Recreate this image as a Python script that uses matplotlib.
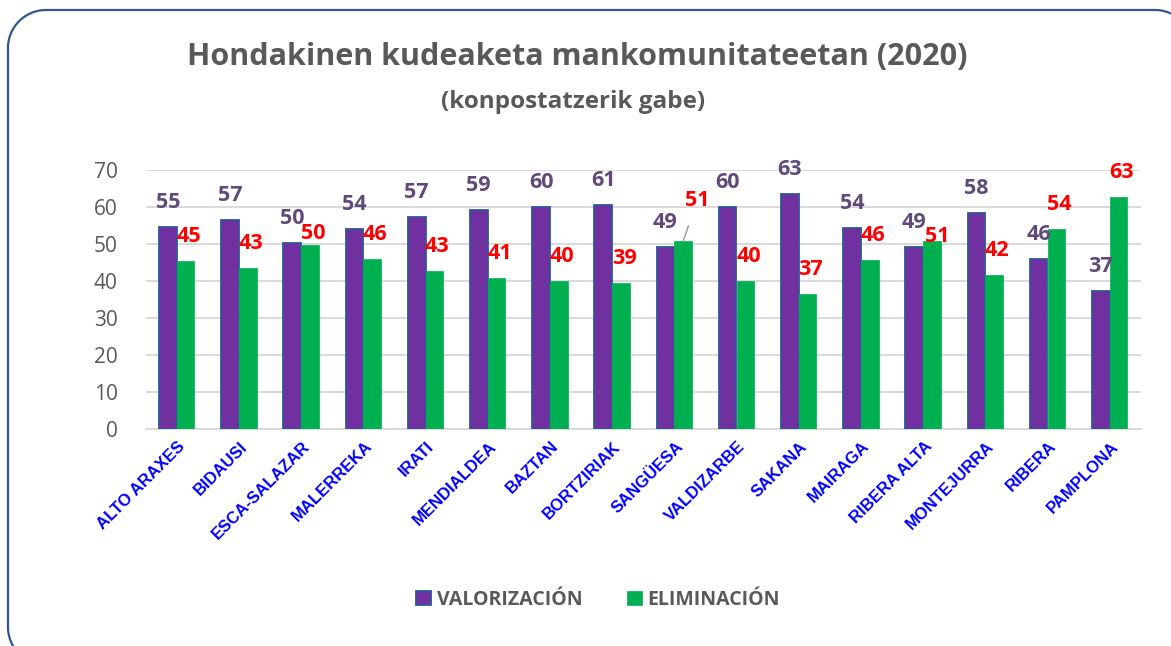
import matplotlib
matplotlib.use("Agg")
import matplotlib.pyplot as plt
import matplotlib.transforms as mtransforms
from matplotlib.lines import Line2D
import numpy as np

categories = ["ALTO ARAXES", "BIDAUSI", "ESCA-SALAZAR", "MALERREKA", "IRATI",
              "MENDIALDEA", "BAZTAN", "BORTZIRIAK", "SANGÜESA", "VALDIZARBE",
              "SAKANA", "MAIRAGA", "RIBERA ALTA", "MONTEJURRA", "RIBERA", "PAMPLONA"]
valorizacion = [54.7, 56.6, 50.4, 54.1, 57.4, 59.2, 60.0, 60.6, 49.2, 60.0,
                63.4, 54.4, 49.2, 58.4, 46.0, 37.4]
eliminacion = [45.3, 43.4, 49.6, 45.9, 42.6, 40.8, 40.0, 39.4, 50.8, 40.0,
               36.6, 45.6, 50.8, 41.6, 54.0, 62.6]
series_names = ["VALORIZACIÓN", "ELIMINACIÓN"]
yticks = [0, 10, 20, 30, 40, 50, 60, 70]

PURPLE = "#7030A0"
GREEN = "#00B050"
EDGE = "#2F5597"
GRAY = "#595959"
LBL_PURPLE = "#604A7B"

fig = plt.figure(figsize=(11.71, 6.46), dpi=100)
W, H = 1171, 646
ax = fig.add_axes([145.6 / W, 1 - 429 / H, (1140.8 - 145.6) / W, (429 - 170) / H])

x = np.arange(len(categories))
bw = 0.286
b1 = ax.bar(x - bw / 2, valorizacion, bw, color=PURPLE, edgecolor=EDGE, linewidth=1.3,
            label=series_names[0], zorder=3)
b2 = ax.bar(x + bw / 2, eliminacion, bw, color=GREEN, edgecolor=GREEN, linewidth=0.5,
            label=series_names[1], zorder=3)

ax.set_xlim(-0.5, len(categories) - 0.5)
ax.set_ylim(0, 70)
ax.set_yticks(yticks)
ax.yaxis.grid(True, color="#D9D9D9", linewidth=1.4, zorder=0)
ax.set_axisbelow(True)
for s in ["top", "right", "left"]:
    ax.spines[s].set_visible(False)
ax.spines["bottom"].set_color("#D9D9D9")
ax.spines["bottom"].set_linewidth(1.4)
ax.tick_params(axis="y", length=0, pad=20, labelsize=15, labelcolor=GRAY)
for t in ax.get_yticklabels():
    t.set_fontfamily("Open Sans")
ax.tick_params(axis="x", length=0, pad=7)
ax.set_xticks(x)
ax.set_xticklabels(categories, rotation=45, ha="right", va="top", rotation_mode="anchor",
                   fontsize=12, fontweight="bold", color="#0000FF",
                   fontfamily="Liberation Sans")
off = mtransforms.ScaledTranslation(1 / 100, 0, fig.dpi_scale_trans)
for t in ax.get_xticklabels():
    t.set_transform(t.get_transform() + off)

lblfont = dict(fontsize=15.5, fontweight="bold", fontfamily="Open Sans")
for i, v in enumerate(valorizacion):
    ax.annotate(f"{v:.0f}", (x[i] - bw / 2, v), xytext=(0, 17.6), textcoords="offset points",
                ha="center", va="center", color=LBL_PURPLE, zorder=5, **lblfont)
for i, v in enumerate(eliminacion):
    name = categories[i]
    if name == "SANGÜESA":
        ax.annotate(f"{v:.0f}", (x[i] + bw / 2, v), xytext=(10, 29), textcoords="offset points",
                    ha="center", va="center", color="#FF0000", zorder=5,
                    arrowprops=dict(arrowstyle="-", color="#A6A6A6", lw=1.2,
                                    shrinkA=9, shrinkB=0), **lblfont)
    elif name == "RIBERA ALTA":
        ax.annotate(f"{v:.0f}", (x[i] + bw / 2, v), xytext=(4, 3.5), textcoords="offset points",
                    ha="center", va="center", color="#FF0000", zorder=5, **lblfont)
    elif name == "ESCA-SALAZAR":
        ax.annotate(f"{v:.0f}", (x[i] + bw / 2, v), xytext=(2, 8.4), textcoords="offset points",
                    ha="center", va="center", color="#FF0000", zorder=5, **lblfont)
    else:
        ax.annotate(f"{v:.0f}", (x[i] + bw / 2, v), xytext=(2.2, 17.6), textcoords="offset points",
                    ha="center", va="center", color="#FF0000", zorder=5, **lblfont)

fig.text(577 / W, 1 - 57 / H, "Hondakinen kudeaketa mankomunitateetan (2020)",
         ha="center", va="center", fontsize=22, fontweight="bold", color=GRAY,
         fontfamily="Open Sans")
fig.text(573 / W, 1 - 102 / H, "(konpostatzerik gabe)",
         ha="center", va="center", fontsize=17.5, fontweight="bold", color=GRAY,
         fontfamily="Open Sans")

leg = fig.legend(handles=[b1, b2], labels=series_names, loc="center",
                 bbox_to_anchor=(598 / W, 1 - 600 / H), ncol=2, frameon=False,
                 handlelength=0.75, handleheight=0.75, handletextpad=0.3,
                 columnspacing=2.3,
                 prop=dict(family="Open Sans", weight="bold", size=14))
for t in leg.get_texts():
    t.set_color(GRAY)

# rounded outer frame (pixel units, y from the top); it runs past the right and bottom edges
L, T, R, B, r = 8, 10, 1193, 665, 38
def arc(cx, cy, a0, a1, n=30):
    a = np.radians(np.linspace(a0, a1, n))
    return cx + r * np.cos(a), cy - r * np.sin(a)
segs = []
xs, ys = arc(R - r, T + r, 0, 90)
segs.append((xs, ys))
xs, ys = arc(L + r, T + r, 90, 180)
segs.append((xs, ys))
xs, ys = arc(L + r, B - r, 180, 270)
segs.append((xs, ys))
xs, ys = arc(R - r, B - r, 270, 360)
segs.append((xs, ys))
fx = np.concatenate([s[0] for s in segs] + [segs[0][0][:1]])
fy = np.concatenate([s[1] for s in segs] + [segs[0][1][:1]])
pix = mtransforms.Affine2D().scale(1 / W, -1 / H).translate(0, 1) + fig.transFigure
fig.add_artist(Line2D(fx, fy, transform=pix, color=EDGE, linewidth=1.6, zorder=10,
                      clip_on=False))

fig.savefig("out.png", dpi=100)
